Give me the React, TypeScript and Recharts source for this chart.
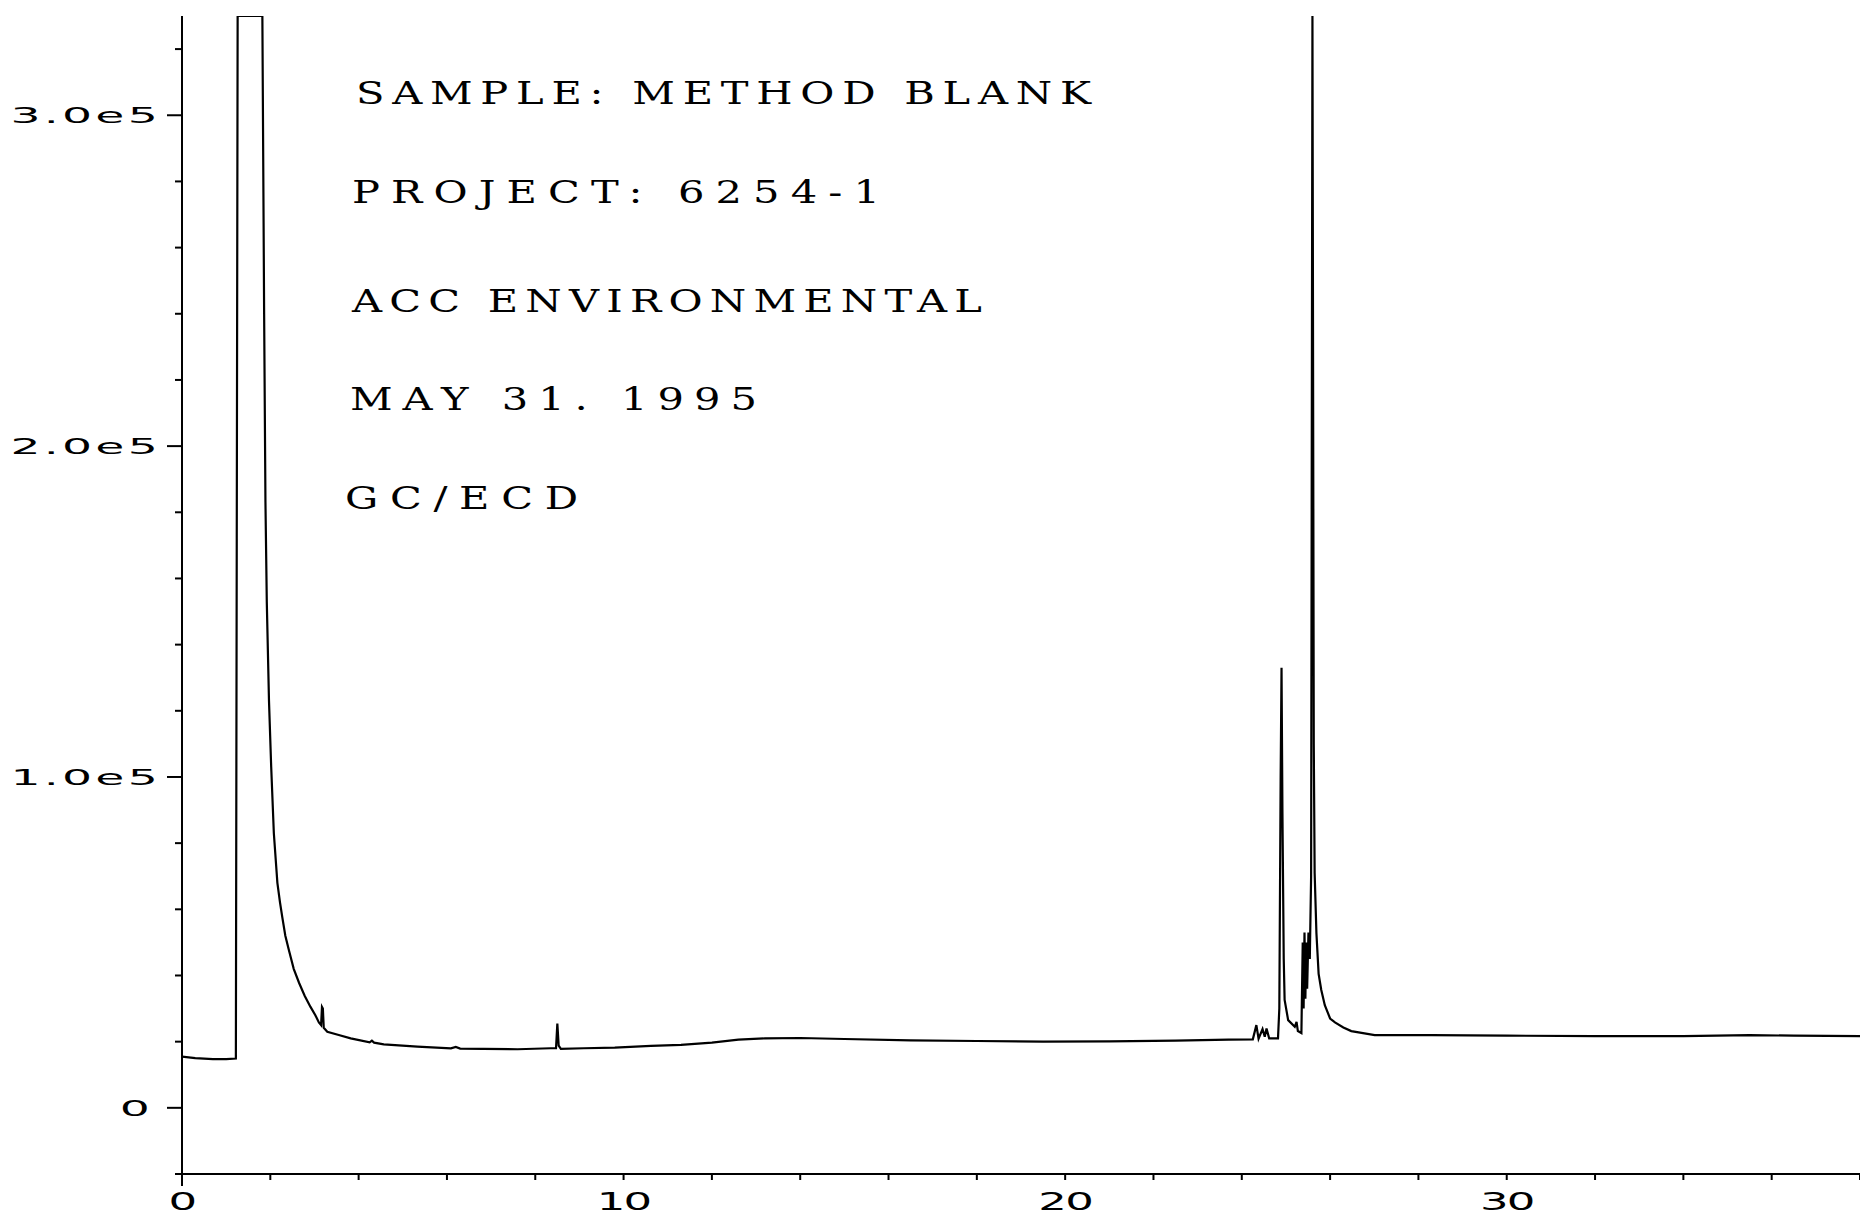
import React from "react";
import { LineChart, Line, XAxis, YAxis } from "recharts";

// retention time (min) and detector response
const retentionTime = [
  0.0, 0.3, 0.7, 1.0, 1.22, 1.24, 1.26, 1.82, 1.86, 1.89, 1.92, 1.97, 2.02, 2.08, 2.16, 2.22,
  2.27, 2.34, 2.42, 2.53, 2.65, 2.78, 2.91, 3.02, 3.1, 3.15, 3.17, 3.19, 3.21, 3.29, 3.55, 3.82,
  4.25, 4.3, 4.35, 4.57, 5.33, 6.09, 6.2, 6.3, 6.83, 7.6, 8.35, 8.47, 8.5, 8.53, 8.58, 9.1, 9.8,
  10.62, 11.3, 12.0, 12.6, 13.2, 14.0, 15.0, 16.5, 18.0, 19.5, 21.0, 22.5, 23.7, 24.25, 24.33,
  24.38, 24.47, 24.52, 24.56, 24.62, 24.82, 24.85, 24.88, 24.9, 24.92, 24.95, 24.97, 25.05, 25.2,
  25.24, 25.27, 25.35, 25.38, 25.4, 25.42, 25.44, 25.46, 25.48, 25.51, 25.54, 25.57, 25.6, 25.63,
  25.65, 25.69, 25.74, 25.8, 25.88, 26.0, 26.11, 26.3, 26.48, 27.01, 28.3, 30.0, 32.0, 34.0, 35.5,
  36.5, 38.0,
];

const detectorSignal = [
  15500, 15000, 14700, 14700, 14900, 172000, 330000, 330000, 240000, 183000, 153000, 123000,
  103000, 83000, 68000, 62000, 57700, 52000, 47700, 42000, 37800, 33800, 30500, 28000, 25800,
  25000, 30500, 30000, 24200, 23000, 22000, 21000, 19800, 20300, 19700, 19200, 18500, 18000,
  18400, 17900, 17800, 17700, 18000, 18000, 25500, 18800, 17800, 18000, 18200, 18700, 19000,
  19700, 20600, 21000, 21100, 20800, 20400, 20200, 20000, 20100, 20300, 20600, 20700, 25000,
  20900, 23800, 21500, 24000, 21000, 21000, 30000, 100000, 133000, 90000, 45000, 32600, 26500,
  24500, 26000, 23200, 22600, 50000, 30000, 53000, 33000, 50000, 36000, 53000, 45000, 70000,
  330000, 110000, 71000, 52800, 40500, 35600, 31000, 27000, 25800, 24300, 23200, 22000, 22000,
  21800, 21700, 21700, 22000, 21800, 21700,
];

const yTicks = [-20000, 0, 20000, 40000, 60000, 80000, 100000, 120000, 140000, 160000, 180000,
  200000, 220000, 240000, 260000, 280000, 300000, 320000];
const yLabels: Record<number, string> = { 0: "0", 100000: "1.0e5", 200000: "2.0e5", 300000: "3.0e5" };

const xTicks = [0, 2, 4, 6, 8, 10, 12, 14, 16, 18, 20, 22, 24, 26, 28, 30, 32, 34, 36, 38];
const xLabels: Record<number, string> = { 0: "0", 10: "10", 20: "20", 30: "30" };

const headerLines = [
  "SAMPLE: METHOD BLANK",
  "PROJECT: 6254-1",
  "ACC ENVIRONMENTAL",
  "MAY 31. 1995",
  "GC/ECD",
];

const data = retentionTime.map((t, i) => ({ t, signal: detectorSignal[i] }));

const W = 1860;
const H = 1217;
const AXIS_X = 182;
const AXIS_Y = 1174;
const plotterFont = "'DejaVu Sans', sans-serif";

// placement of the header block (x, baseline, stretched width)
const headerX = [356, 352, 352, 350, 345];
const headerBase = [104, 203, 312, 410, 509];
const headerWidth = [735, 528, 630, 407, 233];
const headerStretch = 1.3;

function YTick(props: any) {
  const { y, payload } = props;
  const label = yLabels[payload.value];
  const major = label !== undefined;
  const len = major ? 15 : 7;
  const endX = payload.value === 0 ? 153 : 161;
  return (
    <g>
      <line x1={AXIS_X - len} x2={AXIS_X} y1={y} y2={y} stroke="#000" strokeWidth={2} />
      {major && (
        <text
          transform={`translate(${endX},${y + 8}) scale(2.15,1)`}
          textAnchor="end"
          fontFamily={plotterFont}
          fontSize={22}
          letterSpacing={1.5}
          fill="#000"
        >
          {label}
        </text>
      )}
    </g>
  );
}

function XTick(props: any) {
  const { x, payload } = props;
  const label = xLabels[payload.value];
  const len = payload.value === 0 ? 12 : 6;
  return (
    <g>
      <line x1={x} x2={x} y1={AXIS_Y} y2={AXIS_Y + len} stroke="#000" strokeWidth={2} />
      {label !== undefined && (
        <text
          transform={`translate(${x},${AXIS_Y + 36}) scale(1.8,1)`}
          textAnchor="middle"
          fontFamily={plotterFont}
          fontSize={25}
          letterSpacing={-1}
          fill="#000"
        >
          {label}
        </text>
      )}
    </g>
  );
}

export default function App() {
  return (
    <div style={{ position: "absolute", left: 0, top: 0, width: W, height: H, background: "#fff" }}>
      <LineChart width={W} height={H} data={data} margin={{ top: 16, right: 0, bottom: 0, left: 0 }}>
        <XAxis
          dataKey="t"
          type="number"
          domain={[0, 38]}
          ticks={xTicks}
          interval={0}
          height={43}
          axisLine={{ stroke: "#000", strokeWidth: 2 }}
          tickLine={false}
          tick={(p: any) => <XTick {...p} />}
          allowDataOverflow
        />
        <YAxis
          type="number"
          domain={[-20000, 330000]}
          ticks={yTicks}
          interval={0}
          width={182}
          axisLine={{ stroke: "#000", strokeWidth: 2 }}
          tickLine={false}
          tick={(p: any) => <YTick {...p} />}
          allowDataOverflow
        />
        <Line
          type="linear"
          dataKey="signal"
          stroke="#000"
          strokeWidth={2.2}
          dot={false}
          isAnimationActive={false}
        />
      </LineChart>
      <svg
        width={W}
        height={H}
        style={{ position: "absolute", left: 0, top: 0, pointerEvents: "none" }}
      >
        {headerLines.map((line, i) => (
          <text
            key={line}
            transform={`translate(${headerX[i]},${headerBase[i]}) scale(${headerStretch},1)`}
            textLength={headerWidth[i] / headerStretch}
            lengthAdjust="spacing"
            fontFamily="'DejaVu Serif', serif"
            fontSize={32}
            fill="#000"
          >
            {line}
          </text>
        ))}
      </svg>
    </div>
  );
}
